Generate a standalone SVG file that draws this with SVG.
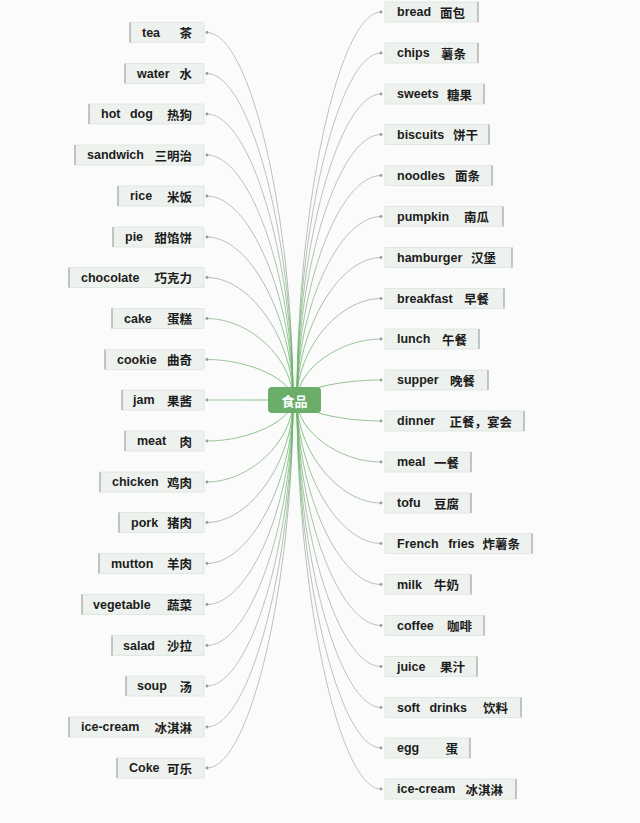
<svg xmlns="http://www.w3.org/2000/svg" width="640" height="823" viewBox="0 0 640 823">
<defs>
<style>
.box{fill:#eef2ee;stroke:#dde3dd;stroke-width:0.8}
.side{stroke:#a4a8a4;stroke-width:1.2}
.t{font-family:"Liberation Sans","Noto Sans CJK SC",sans-serif;font-weight:bold;font-size:12.5px;fill:#1c1c1c;dominant-baseline:central}
.w{word-spacing:6px}
.c{font-family:"Noto Sans CJK SC","Liberation Sans",sans-serif;font-weight:bold;font-size:12.5px;fill:#1c1c1c;dominant-baseline:central}
.dot{fill:#9a9a9a}
.link{fill:none;stroke:url(#lg);stroke-width:0.8}
</style>
<radialGradient id="lg" gradientUnits="userSpaceOnUse" cx="295" cy="400" r="420">
<stop offset="0" stop-color="#5fae5f"/>
<stop offset="0.18" stop-color="#82b782"/>
<stop offset="0.4" stop-color="#aab1aa"/>
<stop offset="1" stop-color="#b4b4b4"/>
</radialGradient>
</defs>
<rect x="0" y="0" width="640" height="823" fill="#fbfbfb"/>
<g id="connectors">
<path class="link" d="M207,32.5 C250,32.5 293,216 293,400"/>
<path class="link" d="M207,73.5 C250,73.5 293,237 293,400"/>
<path class="link" d="M207,114 C250,114 293,257 293,400"/>
<path class="link" d="M207,155 C250,155 293,278 293,400"/>
<path class="link" d="M207,196 C250,196 293,298 293,400"/>
<path class="link" d="M207,237 C250,237 293,318 293,400"/>
<path class="link" d="M207,277.5 C250,277.5 293,339 293,400"/>
<path class="link" d="M207,318.5 C250,318.5 293,359 293,400"/>
<path class="link" d="M207,359.5 C250,359.5 293,380 293,400"/>
<path class="link" d="M207,400 C250,400 293,400 293,400"/>
<path class="link" d="M207,441 C250,441 293,420 293,400"/>
<path class="link" d="M207,482 C250,482 293,441 293,400"/>
<path class="link" d="M207,522.5 C250,522.5 293,461 293,400"/>
<path class="link" d="M207,563.5 C250,563.5 293,482 293,400"/>
<path class="link" d="M207,604.5 C250,604.5 293,502 293,400"/>
<path class="link" d="M207,645.5 C250,645.5 293,523 293,400"/>
<path class="link" d="M207,686 C250,686 293,543 293,400"/>
<path class="link" d="M207,727 C250,727 293,563 293,400"/>
<path class="link" d="M207,768 C250,768 293,584 293,400"/>
<path class="link" d="M381,12 C339,12 297,206 297,400"/>
<path class="link" d="M381,53 C339,53 297,226 297,400"/>
<path class="link" d="M381,94 C339,94 297,247 297,400"/>
<path class="link" d="M381,134.5 C339,134.5 297,267 297,400"/>
<path class="link" d="M381,175.5 C339,175.5 297,288 297,400"/>
<path class="link" d="M381,216.5 C339,216.5 297,308 297,400"/>
<path class="link" d="M381,257.5 C339,257.5 297,329 297,400"/>
<path class="link" d="M381,298.5 C339,298.5 297,349 297,400"/>
<path class="link" d="M381,339 C339,339 297,370 297,400"/>
<path class="link" d="M381,380 C339,380 297,390 297,400"/>
<path class="link" d="M381,421 C339,421 297,410 297,400"/>
<path class="link" d="M381,462 C339,462 297,431 297,400"/>
<path class="link" d="M381,503 C339,503 297,451 297,400"/>
<path class="link" d="M381,543.5 C339,543.5 297,472 297,400"/>
<path class="link" d="M381,584.5 C339,584.5 297,492 297,400"/>
<path class="link" d="M381,625.5 C339,625.5 297,513 297,400"/>
<path class="link" d="M381,666.5 C339,666.5 297,533 297,400"/>
<path class="link" d="M381,707.5 C339,707.5 297,554 297,400"/>
<path class="link" d="M381,748 C339,748 297,574 297,400"/>
<path class="link" d="M381,789 C339,789 297,594 297,400"/>
</g>
<g id="center">
<rect x="268" y="387" width="53" height="26" rx="4" fill="#6aae6a"/>
<text x="294.5" y="400" text-anchor="middle" style="font-family:'Noto Sans CJK SC',sans-serif;font-weight:bold;font-size:13px;fill:#ffffff;dominant-baseline:central">食品</text>
</g>
<g id="n-tea"><rect class="box" x="130" y="22.5" width="74" height="20"/><line class="side" x1="130" y1="22.5" x2="130" y2="42.5"/><circle class="dot" cx="207" cy="32.5" r="1.4"/><text class="t" x="142" y="32.5">tea</text><text class="c" x="192" y="32.5" text-anchor="end">茶</text></g>
<g id="n-water"><rect class="box" x="125" y="63.5" width="79" height="20"/><line class="side" x1="125" y1="63.5" x2="125" y2="83.5"/><circle class="dot" cx="207" cy="73.5" r="1.4"/><text class="t" x="137" y="73.5">water</text><text class="c" x="192" y="73.5" text-anchor="end">水</text></g>
<g id="n-hotdog"><rect class="box" x="89" y="104" width="115" height="20"/><line class="side" x1="89" y1="104" x2="89" y2="124"/><circle class="dot" cx="207" cy="114" r="1.4"/><text class="t w" x="101" y="114">hot dog</text><text class="c" x="192" y="114" text-anchor="end">热狗</text></g>
<g id="n-sandwich"><rect class="box" x="75" y="145" width="129" height="20"/><line class="side" x1="75" y1="145" x2="75" y2="165"/><circle class="dot" cx="207" cy="155" r="1.4"/><text class="t" x="87" y="155">sandwich</text><text class="c" x="192" y="155" text-anchor="end">三明治</text></g>
<g id="n-rice"><rect class="box" x="118" y="186" width="86" height="20"/><line class="side" x1="118" y1="186" x2="118" y2="206"/><circle class="dot" cx="207" cy="196" r="1.4"/><text class="t" x="130" y="196">rice</text><text class="c" x="192" y="196" text-anchor="end">米饭</text></g>
<g id="n-pie"><rect class="box" x="113" y="227" width="91" height="20"/><line class="side" x1="113" y1="227" x2="113" y2="247"/><circle class="dot" cx="207" cy="237" r="1.4"/><text class="t" x="125" y="237">pie</text><text class="c" x="192" y="237" text-anchor="end">甜馅饼</text></g>
<g id="n-chocolate"><rect class="box" x="69" y="267.5" width="135" height="20"/><line class="side" x1="69" y1="267.5" x2="69" y2="287.5"/><circle class="dot" cx="207" cy="277.5" r="1.4"/><text class="t" x="81" y="277.5">chocolate</text><text class="c" x="192" y="277.5" text-anchor="end">巧克力</text></g>
<g id="n-cake"><rect class="box" x="112" y="308.5" width="92" height="20"/><line class="side" x1="112" y1="308.5" x2="112" y2="328.5"/><circle class="dot" cx="207" cy="318.5" r="1.4"/><text class="t" x="124" y="318.5">cake</text><text class="c" x="192" y="318.5" text-anchor="end">蛋糕</text></g>
<g id="n-cookie"><rect class="box" x="105" y="349.5" width="99" height="20"/><line class="side" x1="105" y1="349.5" x2="105" y2="369.5"/><circle class="dot" cx="207" cy="359.5" r="1.4"/><text class="t" x="117" y="359.5">cookie</text><text class="c" x="192" y="359.5" text-anchor="end">曲奇</text></g>
<g id="n-jam"><rect class="box" x="122" y="390" width="82" height="20"/><line class="side" x1="122" y1="390" x2="122" y2="410"/><circle class="dot" cx="207" cy="400" r="1.4"/><text class="t" x="133" y="400">jam</text><text class="c" x="192" y="400" text-anchor="end">果酱</text></g>
<g id="n-meat"><rect class="box" x="125" y="431" width="79" height="20"/><line class="side" x1="125" y1="431" x2="125" y2="451"/><circle class="dot" cx="207" cy="441" r="1.4"/><text class="t" x="137" y="441">meat</text><text class="c" x="192" y="441" text-anchor="end">肉</text></g>
<g id="n-chicken"><rect class="box" x="100" y="472" width="104" height="20"/><line class="side" x1="100" y1="472" x2="100" y2="492"/><circle class="dot" cx="207" cy="482" r="1.4"/><text class="t" x="112" y="482">chicken</text><text class="c" x="192" y="482" text-anchor="end">鸡肉</text></g>
<g id="n-pork"><rect class="box" x="119" y="512.5" width="85" height="20"/><line class="side" x1="119" y1="512.5" x2="119" y2="532.5"/><circle class="dot" cx="207" cy="522.5" r="1.4"/><text class="t" x="131" y="522.5">pork</text><text class="c" x="192" y="522.5" text-anchor="end">猪肉</text></g>
<g id="n-mutton"><rect class="box" x="99" y="553.5" width="105" height="20"/><line class="side" x1="99" y1="553.5" x2="99" y2="573.5"/><circle class="dot" cx="207" cy="563.5" r="1.4"/><text class="t" x="111" y="563.5">mutton</text><text class="c" x="192" y="563.5" text-anchor="end">羊肉</text></g>
<g id="n-vegetable"><rect class="box" x="82" y="594.5" width="122" height="20"/><line class="side" x1="82" y1="594.5" x2="82" y2="614.5"/><circle class="dot" cx="207" cy="604.5" r="1.4"/><text class="t" x="93" y="604.5">vegetable</text><text class="c" x="192" y="604.5" text-anchor="end">蔬菜</text></g>
<g id="n-salad"><rect class="box" x="112" y="635.5" width="92" height="20"/><line class="side" x1="112" y1="635.5" x2="112" y2="655.5"/><circle class="dot" cx="207" cy="645.5" r="1.4"/><text class="t" x="123" y="645.5">salad</text><text class="c" x="192" y="645.5" text-anchor="end">沙拉</text></g>
<g id="n-soup"><rect class="box" x="126" y="676" width="78" height="20"/><line class="side" x1="126" y1="676" x2="126" y2="696"/><circle class="dot" cx="207" cy="686" r="1.4"/><text class="t" x="137" y="686">soup</text><text class="c" x="192" y="686" text-anchor="end">汤</text></g>
<g id="n-icecream-l"><rect class="box" x="69" y="717" width="135" height="20"/><line class="side" x1="69" y1="717" x2="69" y2="737"/><circle class="dot" cx="207" cy="727" r="1.4"/><text class="t" x="81" y="727">ice-cream</text><text class="c" x="192" y="727" text-anchor="end">冰淇淋</text></g>
<g id="n-coke"><rect class="box" x="117" y="758" width="87" height="20"/><line class="side" x1="117" y1="758" x2="117" y2="778"/><circle class="dot" cx="207" cy="768" r="1.4"/><text class="t" x="129" y="768">Coke</text><text class="c" x="192" y="768" text-anchor="end">可乐</text></g>
<g id="n-bread"><rect class="box" x="385" y="2" width="93" height="20"/><line class="side" x1="478" y1="2" x2="478" y2="22"/><circle class="dot" cx="381" cy="12" r="1.4"/><text class="t" x="397" y="12">bread</text><text class="c" x="465" y="12" text-anchor="end">面包</text></g>
<g id="n-chips"><rect class="box" x="385" y="43" width="93" height="20"/><line class="side" x1="478" y1="43" x2="478" y2="63"/><circle class="dot" cx="381" cy="53" r="1.4"/><text class="t" x="397" y="53">chips</text><text class="c" x="466" y="53" text-anchor="end">薯条</text></g>
<g id="n-sweets"><rect class="box" x="385" y="84" width="99" height="20"/><line class="side" x1="484" y1="84" x2="484" y2="104"/><circle class="dot" cx="381" cy="94" r="1.4"/><text class="t" x="397" y="94">sweets</text><text class="c" x="472" y="94" text-anchor="end">糖果</text></g>
<g id="n-biscuits"><rect class="box" x="385" y="124.5" width="104" height="20"/><line class="side" x1="489" y1="124.5" x2="489" y2="144.5"/><circle class="dot" cx="381" cy="134.5" r="1.4"/><text class="t" x="397" y="134.5">biscuits</text><text class="c" x="478" y="134.5" text-anchor="end">饼干</text></g>
<g id="n-noodles"><rect class="box" x="385" y="165.5" width="107" height="20"/><line class="side" x1="492" y1="165.5" x2="492" y2="185.5"/><circle class="dot" cx="381" cy="175.5" r="1.4"/><text class="t" x="397" y="175.5">noodles</text><text class="c" x="480" y="175.5" text-anchor="end">面条</text></g>
<g id="n-pumpkin"><rect class="box" x="385" y="206.5" width="118" height="20"/><line class="side" x1="503" y1="206.5" x2="503" y2="226.5"/><circle class="dot" cx="381" cy="216.5" r="1.4"/><text class="t" x="397" y="216.5">pumpkin</text><text class="c" x="489" y="216.5" text-anchor="end">南瓜</text></g>
<g id="n-hamburger"><rect class="box" x="385" y="247.5" width="127" height="20"/><line class="side" x1="512" y1="247.5" x2="512" y2="267.5"/><circle class="dot" cx="381" cy="257.5" r="1.4"/><text class="t" x="397" y="257.5">hamburger</text><text class="c" x="496" y="257.5" text-anchor="end">汉堡</text></g>
<g id="n-breakfast"><rect class="box" x="385" y="288.5" width="119" height="20"/><line class="side" x1="504" y1="288.5" x2="504" y2="308.5"/><circle class="dot" cx="381" cy="298.5" r="1.4"/><text class="t" x="397" y="298.5">breakfast</text><text class="c" x="489" y="298.5" text-anchor="end">早餐</text></g>
<g id="n-lunch"><rect class="box" x="385" y="329" width="94" height="20"/><line class="side" x1="479" y1="329" x2="479" y2="349"/><circle class="dot" cx="381" cy="339" r="1.4"/><text class="t" x="397" y="339">lunch</text><text class="c" x="467" y="339" text-anchor="end">午餐</text></g>
<g id="n-supper"><rect class="box" x="385" y="370" width="103" height="20"/><line class="side" x1="488" y1="370" x2="488" y2="390"/><circle class="dot" cx="381" cy="380" r="1.4"/><text class="t" x="397" y="380">supper</text><text class="c" x="475" y="380" text-anchor="end">晚餐</text></g>
<g id="n-dinner"><rect class="box" x="385" y="411" width="139" height="20"/><line class="side" x1="524" y1="411" x2="524" y2="431"/><circle class="dot" cx="381" cy="421" r="1.4"/><text class="t" x="397" y="421">dinner</text><text class="c" x="512" y="421" text-anchor="end">正餐，宴会</text></g>
<g id="n-meal"><rect class="box" x="385" y="452" width="86" height="20"/><line class="side" x1="471" y1="452" x2="471" y2="472"/><circle class="dot" cx="381" cy="462" r="1.4"/><text class="t" x="397" y="462">meal</text><text class="c" x="459" y="462" text-anchor="end">一餐</text></g>
<g id="n-tofu"><rect class="box" x="385" y="493" width="86" height="20"/><line class="side" x1="471" y1="493" x2="471" y2="513"/><circle class="dot" cx="381" cy="503" r="1.4"/><text class="t" x="397" y="503">tofu</text><text class="c" x="459" y="503" text-anchor="end">豆腐</text></g>
<g id="n-frenchfries"><rect class="box" x="385" y="533.5" width="147" height="20"/><line class="side" x1="532" y1="533.5" x2="532" y2="553.5"/><circle class="dot" cx="381" cy="543.5" r="1.4"/><text class="t w" x="397" y="543.5">French fries</text><text class="c" x="520" y="543.5" text-anchor="end">炸薯条</text></g>
<g id="n-milk"><rect class="box" x="385" y="574.5" width="86" height="20"/><line class="side" x1="471" y1="574.5" x2="471" y2="594.5"/><circle class="dot" cx="381" cy="584.5" r="1.4"/><text class="t" x="397" y="584.5">milk</text><text class="c" x="459" y="584.5" text-anchor="end">牛奶</text></g>
<g id="n-coffee"><rect class="box" x="385" y="615.5" width="99" height="20"/><line class="side" x1="484" y1="615.5" x2="484" y2="635.5"/><circle class="dot" cx="381" cy="625.5" r="1.4"/><text class="t" x="397" y="625.5">coffee</text><text class="c" x="472" y="625.5" text-anchor="end">咖啡</text></g>
<g id="n-juice"><rect class="box" x="385" y="656.5" width="92" height="20"/><line class="side" x1="477" y1="656.5" x2="477" y2="676.5"/><circle class="dot" cx="381" cy="666.5" r="1.4"/><text class="t" x="397" y="666.5">juice</text><text class="c" x="465" y="666.5" text-anchor="end">果汁</text></g>
<g id="n-softdrinks"><rect class="box" x="385" y="697.5" width="136" height="20"/><line class="side" x1="521" y1="697.5" x2="521" y2="717.5"/><circle class="dot" cx="381" cy="707.5" r="1.4"/><text class="t w" x="397" y="707.5">soft drinks</text><text class="c" x="508" y="707.5" text-anchor="end">饮料</text></g>
<g id="n-egg"><rect class="box" x="385" y="738" width="85" height="20"/><line class="side" x1="470" y1="738" x2="470" y2="758"/><circle class="dot" cx="381" cy="748" r="1.4"/><text class="t" x="397" y="748">egg</text><text class="c" x="458" y="748" text-anchor="end">蛋</text></g>
<g id="n-icecream-r"><rect class="box" x="385" y="779" width="131" height="20"/><line class="side" x1="516" y1="779" x2="516" y2="799"/><circle class="dot" cx="381" cy="789" r="1.4"/><text class="t" x="397" y="789">ice-cream</text><text class="c" x="503" y="789" text-anchor="end">冰淇淋</text></g>
</svg>
